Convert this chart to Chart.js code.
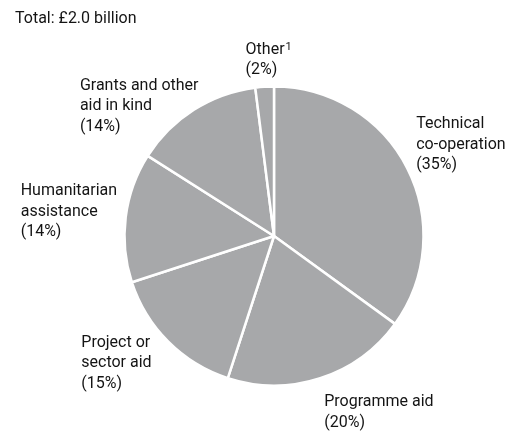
<!DOCTYPE html>
<html lang="en">
<head>
  <meta charset="UTF-8">
  <title>Aid by type</title>
  <script src="https://cdn.jsdelivr.net/npm/chart.js"></script>
  <style>
    html, body {
      margin: 0;
      padding: 0;
      background: white;
    }
    canvas {
      display: block;
    }
  </style>
</head>
<body>
  <canvas id="chart" width="513" height="431"></canvas>

  <script>
    const totalText = "Total: £2.0 billion";
    const categories = ["Technical co-operation", "Programme aid", "Project or sector aid",
      "Humanitarian assistance", "Grants and other aid in kind", "Other"];
    const shares = [35, 20, 15, 14, 14, 2];
    // how each category name wraps in the label
    const labelLines = [
      ["Technical", "co-operation"],
      ["Programme aid"],
      ["Project or", "sector aid"],
      ["Humanitarian", "assistance"],
      ["Grants and other", "aid in kind"],
      ["Other"]
    ];
    const footnotes = ["", "", "", "", "", "1"];

    // label offset from the slice's outer edge at its middle angle (left x, first baseline)
    const labelNudge = [[9, -40], [4, 28], [-87, 5], [-105, -22], [-114, -20], [-19, -33]];

    const textColor = "#141414";
    const font = "16px Roboto";
    const noteFont = "11px Roboto";
    const lineGap = 20.5;

    const pieLabels = {
      id: "pieLabels",
      afterDraw(chart) {
        const ctx = chart.ctx;
        ctx.save();
        ctx.fillStyle = textColor;
        ctx.font = font;
        ctx.textAlign = "left";
        ctx.textBaseline = "alphabetic";
        ctx.fillText(totalText, 15, 23);

        const arcs = chart.getDatasetMeta(0).data;
        arcs.forEach((arc, i) => {
          const mid = (arc.startAngle + arc.endAngle) / 2;
          const ex = arc.x + Math.cos(mid) * arc.outerRadius;
          const ey = arc.y + Math.sin(mid) * arc.outerRadius;
          const x = ex + labelNudge[i][0];
          let y = ey + labelNudge[i][1];
          const lines = [...labelLines[i], "(" + shares[i] + "%)"];
          lines.forEach((line, j) => {
            ctx.font = font;
            ctx.fillText(line, x, y);
            if (j === 0 && footnotes[i]) {
              const w = ctx.measureText(line).width;
              ctx.font = noteFont;
              ctx.fillText(footnotes[i], x + w + 1, y - 4);
            }
            y += lineGap;
          });
        });
        ctx.restore();
      }
    };

    new Chart(document.getElementById("chart").getContext("2d"), {
      type: "pie",
      data: {
        labels: categories,
        datasets: [{
          data: shares,
          backgroundColor: "#a7a8aa",
          borderColor: "#ffffff",
          borderWidth: 2.5,
          radius: 149.5
        }]
      },
      options: {
        responsive: false,
        animation: false,
        layout: {
          padding: { left: 125, right: 90, top: 87, bottom: 46 }
        },
        plugins: {
          legend: { display: false },
          tooltip: { enabled: false }
        }
      },
      plugins: [pieLabels]
    });
  </script>
</body>
</html>
